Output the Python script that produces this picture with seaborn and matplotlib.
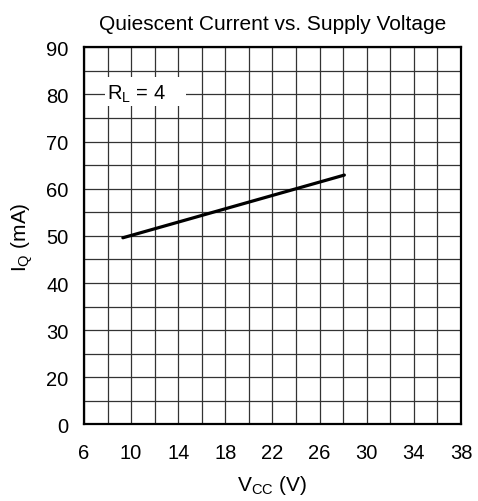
import numpy as np
import pandas as pd
import seaborn as sns
import matplotlib
matplotlib.use("Agg")
import matplotlib.pyplot as plt
from matplotlib.ticker import FixedLocator, MultipleLocator
from matplotlib.patches import Rectangle

# ---- data ----
vcc = [9.3, 28.1]
iq = [49.6, 62.9]
x_ticks = [6, 10, 14, 18, 22, 26, 30, 34, 38]
y_ticks = [10, 20, 30, 40, 50, 60, 70, 80, 90]
y_tick_labels = ["0", "20", "30", "40", "50", "60", "70", "80", "90"]
title = "Quiescent Current vs. Supply Voltage"
legend_text = r"R$_{\mathrm{L}}$ = 4"

sns.set_theme(style="white")
plt.rcParams["font.family"] = ["Liberation Sans", "DejaVu Sans"]
plt.rcParams["mathtext.fontset"] = "custom"
plt.rcParams["mathtext.rm"] = "Liberation Sans"
plt.rcParams["mathtext.it"] = "Liberation Sans"

fig = plt.figure(figsize=(4.78, 5.02), dpi=100)
ax = fig.add_axes([0.1757, 0.1524, 0.9644 - 0.1757, 0.9038 - 0.1524])

df = pd.DataFrame({"vcc": vcc, "iq": iq})
sns.lineplot(data=df, x="vcc", y="iq", ax=ax, color="black", linewidth=2.3, zorder=5)

ax.set_xlim(6, 38)
ax.set_ylim(10, 90)
ax.xaxis.set_major_locator(FixedLocator(x_ticks))
ax.yaxis.set_major_locator(FixedLocator(y_ticks))
ax.set_yticklabels(y_tick_labels)
ax.xaxis.set_minor_locator(MultipleLocator(2))
ax.yaxis.set_minor_locator(MultipleLocator(5))
ax.grid(which="both", color="#333333", linewidth=0.9)
ax.set_axisbelow(True)
ax.tick_params(axis="both", which="both", length=0, labelsize=14.5, colors="black")
ax.tick_params(axis="x", pad=13)
ax.tick_params(axis="y", pad=11)
for s in ax.spines.values():
    s.set_color("black")
    s.set_linewidth(1.6)
    s.set_visible(True)

ax.set_xlabel(r"V$_{\mathrm{CC}}$ (V)", fontsize=15, labelpad=8, color="black")
ax.set_ylabel(r"I$_{\mathrm{Q}}$ (mA)", fontsize=15, labelpad=8, color="black")
ax.set_title(title, fontsize=15, pad=13, color="black")

ax.add_patch(Rectangle((7.8, 77.5), 6.9, 6.1, facecolor="white", edgecolor="none", zorder=3))
ax.text(7.95, 80.2, legend_text, fontsize=14.5, va="center", ha="left", zorder=4, color="black")

fig.savefig("out.png", dpi=100)
